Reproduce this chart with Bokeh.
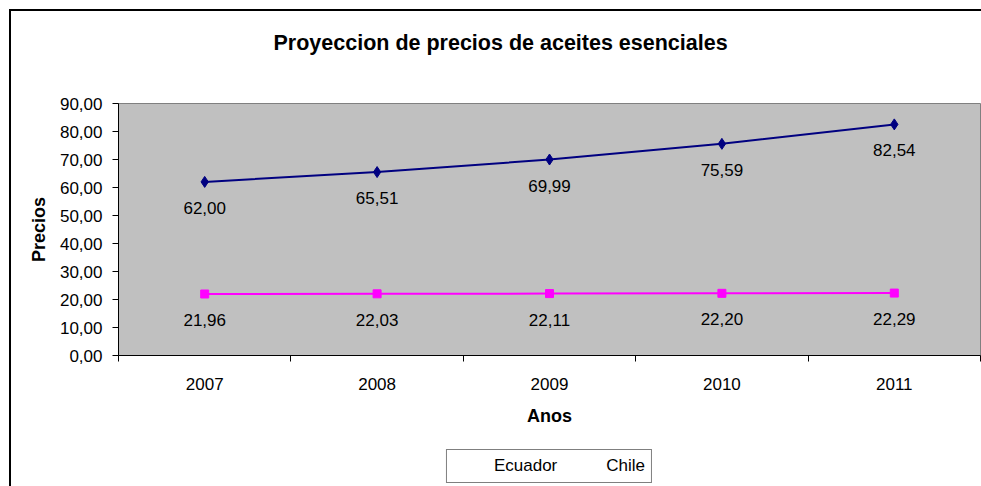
from bokeh.plotting import figure
from bokeh.layouts import column
from bokeh.models import (Range1d, FixedTicker, Legend, LegendItem,
                          ColumnDataSource, Title)
from bokeh.embed import file_html
from bokeh.resources import INLINE

# ---- data ----
years = ["2007", "2008", "2009", "2010", "2011"]
ecuador = [62.00, 65.51, 69.99, 75.59, 82.54]
chile = [21.96, 22.03, 22.11, 22.20, 22.29]
y_ticks = [0, 10, 20, 30, 40, 50, 60, 70, 80, 90]
series_names = ["Ecuador", "Chile"]

title_text = "Proyeccion de precios de aceites esenciales"
x_title = "Anos"
y_title = "Precios"

FONT = "Liberation Sans"
NAVY = "#000080"
MAGENTA = "#FF00FF"

xs = list(range(len(years)))

def fmt(v):
    return f"{v:.2f}".replace(".", ",")

# outer chart border: only its left and top edges are inside the picture
border_css = {
    "background-color": "white",
    "background-image": "linear-gradient(black, black), linear-gradient(black, black)",
    "background-size": "2px 100%, 100% 2px",
    "background-position": "9px 9px, 9px 9px",
    "background-repeat": "no-repeat",
}
border_css_lower = {
    "background-color": "white",
    "background-image": "linear-gradient(black, black)",
    "background-size": "2px 100%",
    "background-position": "9px 0px",
    "background-repeat": "no-repeat",
}

p = figure(width=981, height=440, frame_width=862, frame_height=252,
           output_backend="svg", toolbar_location=None,
           x_range=Range1d(-0.5, len(years) - 0.5), y_range=Range1d(0, 90),
           min_border_left=118, min_border_right=1, min_border_top=103,
           min_border_bottom=85, styles=border_css)
p.background_fill_color = "#C0C0C0"
p.border_fill_color = None
p.outline_line_color = "#808080"
p.outline_line_width = 1
p.xgrid.visible = False
p.ygrid.visible = False

# spacer between plot area and chart title, then the title itself
p.add_layout(Title(text=" ", text_font_size="2px", standoff=45), "above")
p.add_layout(Title(text=title_text, align="left", offset=155, standoff=0,
                   text_font=FONT, text_font_size="21.5px",
                   text_font_style="bold", text_color="black"), "above")

# x axis
xa = p.xaxis[0]
xa.ticker = FixedTicker(ticks=xs, minor_ticks=[i - 0.5 for i in range(len(years) + 1)])
xa.major_label_overrides = {i: y for i, y in zip(xs, years)}
xa.major_tick_line_color = None
xa.major_tick_out = 0
xa.major_tick_in = 0
xa.minor_tick_line_color = "black"
xa.minor_tick_out = 6
xa.minor_tick_in = 0
xa.axis_line_color = "black"
xa.major_label_standoff = 16
xa.major_label_text_font = FONT
xa.major_label_text_font_size = "17px"
xa.major_label_text_color = "black"
xa.axis_label = x_title
xa.axis_label_text_font = FONT
xa.axis_label_text_font_size = "18px"
xa.axis_label_text_font_style = "bold"
xa.axis_label_text_color = "black"
xa.axis_label_standoff = 13

# y axis
ya = p.yaxis[0]
ya.ticker = FixedTicker(ticks=y_ticks)
ya.major_label_overrides = {t: fmt(t) for t in y_ticks}
ya.major_tick_line_color = "black"
ya.major_tick_out = 6
ya.major_tick_in = 0
ya.minor_tick_line_color = None
ya.axis_line_color = "black"
ya.major_label_standoff = 10
ya.major_label_text_font = FONT
ya.major_label_text_font_size = "17px"
ya.major_label_text_color = "black"
ya.axis_label = y_title
ya.axis_label_text_font = FONT
ya.axis_label_text_font_size = "18px"
ya.axis_label_text_font_style = "bold"
ya.axis_label_text_color = "black"
ya.axis_label_standoff = 8

# series
src_e = ColumnDataSource(dict(x=xs, y=ecuador, ly=[v - 9.3 for v in ecuador],
                              t=[fmt(v) for v in ecuador]))
src_c = ColumnDataSource(dict(x=xs, y=chile, ly=[v - 9.3 for v in chile],
                              t=[fmt(v) for v in chile]))

p.line("x", "y", source=src_e, line_color=NAVY, line_width=2)
p.scatter("x", "y", source=src_e, marker="diamond", size=11,
          fill_color=NAVY, line_color=NAVY)
p.line("x", "y", source=src_c, line_color=MAGENTA, line_width=2)
p.scatter("x", "y", source=src_c, marker="square", size=8,
          fill_color=MAGENTA, line_color=MAGENTA)

for src in (src_e, src_c):
    p.text("x", "ly", text="t", source=src, text_align="center",
           text_baseline="middle", text_font_size="17px",
           text_font={"value": FONT}, text_color="black")

# ---- legend strip below the chart (same frame alignment as the plot) ----
q = figure(width=981, height=46, output_backend="svg", toolbar_location=None,
           x_range=Range1d(0, 1), y_range=Range1d(0, 1),
           x_axis_type=None, y_axis_type=None,
           min_border_left=118, min_border_right=1, min_border_top=0,
           min_border_bottom=0, styles=border_css_lower)
q.background_fill_color = None
q.border_fill_color = None
q.outline_line_color = None
q.xgrid.visible = False
q.ygrid.visible = False

empty = dict(x=[], y=[])
qe_l = q.line("x", "y", source=ColumnDataSource(empty), line_color=NAVY, line_width=2)
qe_s = q.scatter("x", "y", source=ColumnDataSource(empty), marker="diamond",
                 size=11, fill_color=NAVY, line_color=NAVY)
qc_l = q.line("x", "y", source=ColumnDataSource(empty), line_color=MAGENTA, line_width=2)
qc_s = q.scatter("x", "y", source=ColumnDataSource(empty), marker="square",
                 size=8, fill_color=MAGENTA, line_color=MAGENTA)

legend = Legend(items=[LegendItem(label=series_names[0], renderers=[qe_l, qe_s]),
                       LegendItem(label=series_names[1], renderers=[qc_l, qc_s])],
                orientation="horizontal", location="bottom_center",
                border_line_color="black", border_line_width=1,
                background_fill_color="white", background_fill_alpha=1,
                padding=6, margin=3, spacing=8, label_standoff=4,
                glyph_width=37, glyph_height=20, label_height=20,
                label_text_font=FONT, label_text_font_size="17px",
                label_text_color="black")
q.add_layout(legend, "center")

layout = column(p, q, spacing=0)

open("out.html", "w").write(file_html(layout, INLINE))
